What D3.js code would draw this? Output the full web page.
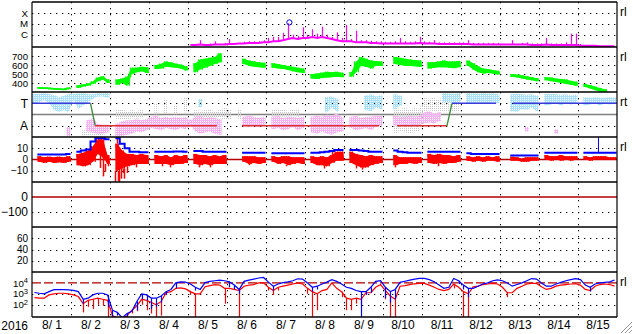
<!DOCTYPE html>
<html>
<head>
<meta charset="utf-8">
<script src="https://cdnjs.cloudflare.com/ajax/libs/d3/7.8.5/d3.min.js"></script>
<style>
  body { margin: 0; background: #fff; }
  text { font-family: "Liberation Sans", Arial, sans-serif; }
</style>
</head>
<body>
<div class="chart"></div>
<script>
// Space weather summary, 2016-08-01 .. 2016-08-16, 3-hour bins (8 per day)
var N = null;

// X-ray flux, log10 W/m2 (bin low / bin high)
var xrayLo = [
  N,N,N,N,N,N,N,N, N,N,N,N,N,N,N,N, N,N,N,N,N,N,N,N, N,N,N,N,N,N,N,N,
  -6.95,-6.95,-6.9,-6.95,-6.95,-6.9,-6.9,-6.9,
  -6.85,-6.85,-6.8,-6.8,-6.75,-6.75,-6.75,-6.7,
  -6.7,-6.6,-6.6,-6.5,-6.4,-6.3,-6.4,-6.3,
  -6.3,-6.2,-6.3,-6.2,-6.3,-6.4,-6.5,-6.6,
  -6.6,-6.6,-6.7,-6.7,-6.7,-6.75,-6.75,-6.8,
  -6.8,-6.8,-6.8,-6.8,-6.8,-6.8,-6.8,-6.75,
  -6.8,-6.8,-6.8,-6.85,-6.85,-6.85,-6.85,-6.85,
  -6.85,-6.85,-6.9,-6.9,-6.9,-6.9,-6.9,-6.9,
  -6.9,-6.9,-6.9,-6.9,-6.9,-6.9,-6.95,-6.95,
  -6.95,-6.9,-6.95,-6.95,-6.95,-6.95,-6.95,-6.95,
  -7.0,-7.0,-7.0,-7.0,-7.05,-7.05,-7.05,-7.05
];
var xrayHi = [
  N,N,N,N,N,N,N,N, N,N,N,N,N,N,N,N, N,N,N,N,N,N,N,N, N,N,N,N,N,N,N,N,
  -6.85,-6.85,-6.5,-6.85,-6.8,-6.6,-6.8,-6.75,
  -6.4,-6.75,-6.7,-6.65,-6.6,-6.6,-6.6,-6.5,
  -6.3,-6.2,-6.2,-5.82,-4.95,-6.0,-6.1,-5.32,
  -6.0,-5.5,-5.9,-5.27,-6.0,-6.2,-5.78,-6.3,
  -5.11,-6.4,-5.63,-6.5,-6.5,-6.55,-6.6,-6.6,
  -6.65,-6.65,-6.6,-6.3,-6.6,-6.65,-6.6,-6.2,
  -6.6,-6.65,-6.5,-6.7,-6.7,-6.7,-6.7,-6.7,
  -6.7,-6.5,-6.75,-6.75,-6.75,-6.75,-6.75,-6.75,
  -6.8,-6.8,-6.5,-6.8,-6.75,-6.7,-6.8,-6.8,
  -6.8,-6.3,-6.8,-6.8,-6.8,-6.7,-5.9,-5.9,
  -6.85,-6.9,-6.9,-6.9,-6.95,-6.95,-6.95,-6.95
];
var flareMark = { bin: 52.8, v: -4.87 };

// solar wind speed, km/s
var speedLo = [
  N,334,333,330,325,322,320,330,
  N,345,360,370,390,420,440,400,
  N,380,400,370,500,520,530,510,
  N,555,560,580,575,570,560,540,
  N,520,550,570,590,610,630,N,
  N,N,N,610,590,580,575,570,
  N,570,560,555,545,530,520,510,
  N,450,445,455,460,465,470,465,
  N,470,520,590,580,560,590,590,
  N,N,610,600,590,590,585,580,
  N,560,570,575,575,570,565,575,
  N,590,550,520,505,510,505,495,
  N,N,470,460,450,440,430,420,
  N,430,420,410,400,390,380,370,
  N,355,340,320,305,300,N,N
];
var speedHi = [
  N,355,352,350,345,342,340,350,
  N,375,385,395,420,460,475,440,
  N,440,450,470,570,570,580,575,
  N,600,615,640,630,615,605,585,
  N,620,660,670,680,690,730,N,
  N,N,N,670,650,640,630,625,
  N,620,610,600,590,580,570,560,
  N,500,505,515,525,520,525,515,
  N,520,640,690,670,650,645,640,
  N,N,690,680,670,660,655,650,
  N,630,630,640,650,640,640,645,
  N,650,620,585,560,555,545,535,
  N,N,500,495,485,475,465,455,
  N,465,460,450,445,440,425,415,
  N,390,375,360,345,330,N,N
];

// IMF direction scatter (+1 toward, -1 away)
var towardLo = [
  0.93,1.1,1.29,1.0,0.4,0.22,0.4,0.22,
  1.3,0.5,0.8,1.1,1.4,1.6,1.6,1.5,
  N,N,N,N,N,N,N,N, N,N,N,N,N,N,N,N,
  N,N,0.67,N,N,N,N,N, N,N,N,N,N,N,N,N, N,N,N,N,N,N,N,N,
  N,N,N,N,0.2,0.6,0.3,N,
  N,N,N,N,0.4,0.3,0.6,0.5,
  N,N,0.5,0.8,N,N,N,N,
  N,N,N,N,1.1,1.1,1.0,1.1,
  N,0.93,1.0,1.1,0.95,1.0,1.1,1.0,
  N,N,0.3,0.22,0.5,0.4,0.6,0.3,
  N,0.8,0.9,1.0,0.8,1.0,0.9,1.0,
  N,0.8,0.9,1.0,0.8,1.0,0.9,1.0
];
var towardHi = [
  1.82,1.82,1.9,1.82,1.73,1.55,1.64,1.82,
  1.8,1.9,1.9,1.8,1.8,1.9,1.9,1.9,
  N,N,N,N,N,N,N,N, N,N,N,N,N,N,N,N,
  N,N,1.38,N,N,N,N,N, N,N,N,N,N,N,N,N, N,N,N,N,N,N,N,N,
  N,N,N,N,1.55,1.6,1.4,N,
  N,N,N,N,1.7,1.8,1.6,1.7,
  N,N,1.8,1.7,N,N,N,N,
  N,N,N,N,1.9,1.9,1.85,1.9,
  N,1.9,1.9,1.85,1.9,1.85,1.9,1.8,
  N,N,1.8,1.82,1.8,1.75,1.8,1.7,
  N,1.8,1.82,1.8,1.75,1.8,1.7,1.75,
  N,1.55,1.5,1.55,1.5,1.5,1.55,1.5
];
var awayLo = [
  N,N,N,N,N,N,N,-1.9,
  N,N,N,-1.5,-1.6,-1.73,-1.7,-1.6,
  N,-1.9,-1.9,-1.8,-1.7,-1.5,-1.6,-1.4,
  -1.2,-1.3,-1.4,-1.2,-1.3,-1.4,-1.2,-1.3,
  -1.0,-1.5,-1.7,-1.6,-1.5,-1.7,-1.8,N,
  N,N,N,-1.0,-1.1,-1.0,-1.1,-0.9,
  N,-1.3,-1.2,-1.4,-1.3,-1.1,-1.4,-1.2,
  N,-1.6,-1.7,-1.5,-1.7,-1.8,-1.6,-1.5,
  N,-1.2,-1.4,-1.3,-1.2,-1.4,-1.1,-1.0,
  N,N,-1.0,-0.9,-1.0,-0.9,-1.0,-0.9,
  -0.8,-0.7,-0.8,-0.6,N,N,N,N,
  N,N,N,N,N,N,N,N,
  N,N,N,N,N,-1.5,N,N,
  N,N,N,-1.7,N,N,N,N,
  N,N,N,N,N,N,N,N
];
var awayHi = [
  N,N,N,N,N,N,N,-1.1,
  N,N,N,-0.5,-0.3,-0.84,-0.9,-0.9,
  N,-0.8,-0.6,-0.5,-0.5,-0.4,-0.5,-0.4,
  -0.2,-0.1,-0.3,-0.2,-0.3,-0.2,-0.3,-0.2,
  -0.5,-0.2,-0.1,-0.3,-0.2,-0.3,-0.4,N,
  N,N,N,-0.2,-0.1,-0.2,-0.3,-0.2,
  N,-0.2,-0.1,-0.3,-0.2,-0.2,-0.3,-0.2,
  N,-0.2,-0.1,-0.2,0.0,-0.1,0.1,-0.2,
  N,-0.2,-0.1,-0.3,-0.2,-0.2,-0.1,-0.1,
  N,N,-0.1,-0.2,-0.2,-0.1,-0.2,-0.1,
  0.2,0.3,0.1,0.2,N,N,N,N,
  N,N,N,N,N,N,N,N,
  N,N,N,N,N,-1.1,N,N,
  N,N,N,-1.3,N,N,N,N,
  N,N,N,N,N,N,N,N
];
var weakLo = [
  N,N,N,N,N,N,N,N,
  N,N,-2,-2,-2,-2,-2,N,
  N,-0.5,-0.4,-0.5,-0.3,-0.4,-0.3,N,
  N,0,N,0.1,N,0,N,0.2,
  N,-0.3,-0.3,-0.2,-0.3,-0.2,-0.3,-0.5,
  -0.4,N,-0.5,N,N,N,N,N,
  N,-0.2,-0.1,-0.2,-0.2,-0.1,-0.2,N,
  N,N,N,N,N,N,N,N,
  N,N,N,N,N,N,N,N,
  N,N,-1.7,-1.5,-1.6,-1.7,-1.5,-1.6,
  0.3,0.4,0.3,0.3,0.2,0.2,0.2,0.2,
  N,1.0,N,1.0,N,1.1,N,1.0,
  N,N,N,N,N,N,N,N,
  N,1.0,N,1.1,N,1.0,N,N,
  N,N,N,N,N,N,N,N
];
var weakHi = [
  N,N,N,N,N,N,N,N,
  N,N,-1.4,-1.4,-1.5,-1.6,-1.5,N,
  N,0.4,0.5,0.3,0.4,0.3,0.5,N,
  N,1.0,N,1.3,N,0.8,N,1.5,
  N,0.4,0.3,0.4,0.4,0.3,0.4,0.6,
  0.5,N,0.5,N,N,N,N,N,
  N,0.5,0.4,0.5,0.3,0.5,0.4,N,
  N,N,N,N,N,N,N,N,
  N,N,N,N,N,N,N,N,
  N,N,0.6,0.5,0.6,0.4,0.6,0.5,
  1.5,1.4,1.5,1.3,1.8,1.8,1.8,1.8,
  N,1.8,N,1.8,N,1.8,N,1.7,
  N,N,N,N,N,N,N,N,
  N,1.8,N,1.8,N,1.7,N,N,
  N,N,N,N,N,N,N,N
];
// sector polarity, time in days from 8/1 00:00
var sectorT = [0, 1.5, 1.62, 4.74, N, 5.38, 8.9, N, 9.36, 10.64, 10.77, 11.9, N, 12.33, 15];
var sectorV = [1, 1, -1, -1, N, -1, -1, N, -1, -1, 1, 1, N, 1, 1];

// IMF Bt and Bz, nT
var bt = [
  N,4.5,4.5,4.5,4.5,4.5,4.5,5,
  N,7,8,9,16,19,19,18,
  N,19,14,10,7,7,6.5,6.5,
  N,7,7,7,7,7.2,7.2,7,
  N,7.5,7.5,7,7,7,7,7,
  N,N,N,6,6,6,6,6,
  N,5.5,5.5,5.5,5.5,5.5,5.5,5.5,
  N,6,6,6.5,7,7.5,8.5,8.5,
  N,8.5,8.5,8,7.5,7,7,7,
  N,N,8,7,6.5,6,6,6,
  N,7,7,7,7,7,7,7,
  N,5.5,5,5,5,5,5,5,
  N,N,3.5,3.5,3.5,3.5,3.5,3.5,
  N,6,6,6,6,6,6,6,
  N,6,6,6,6,6,6,6
];
var btSpikes = [{ bin: 116.2, v: 20 }];
var bzLo = [
  N,-2,-3,-2,-3,-2.5,-3,-2,
  N,-5,-6,-5,-2,5,2,-4,
  N,-10,-8,-6,-5,-4,-4,-4,
  N,-4,-4,-4,-5,-4,-4,-3,
  N,-4,-5,-4,-5,-4,-4,-4,
  N,N,N,-2,-4,-3,-4,-3,
  N,-2,-4,-3,-5,-4,-3,-4,
  N,-3,-5,-5,-6,-3,-1,-1,
  N,-3,-5,-7,-7,-5,-4,-3,
  N,N,-5,-4,-4,-3,-4,-3,
  N,-3,-4,-3,-4,-3,-3,-2,
  N,-1,-2,-1,-2,-1,-1,-2,
  N,N,-1,-1,-2,-2,-1,-1,
  N,0,-1,0,-1,0,-1,0,
  N,0,-1,0,0,0,0,0
];
var bzHi = [
  N,3,2,2.5,2,2.5,2,3,
  N,5,6,8,12,18,18,4,
  N,14,8,5,5,4,5,4,
  N,4,3,4,2,4,3,4,
  N,5,4,4,3,4,3,4,
  N,N,N,3,3,3,2,2,
  N,3,2,3,3,2,2,2,
  N,3,2,3,2,4,7,7,
  N,7,5,4,3,4,3,3,
  N,N,4,2,2,2,2,2,
  N,5,4,5,4,4,3,4,
  N,3,2,3,2,3,2,3,
  N,N,2.5,2,1,2,2,2,
  N,4,3,3,4,3,3,3,
  N,3,2,3,3,3,2,2
];
// short excursions of Bz beyond the bands: [bin, nT]
var bzSpikes = [
  [13.9, -7.5], [14.6, -15], [15.0, -10.8], [15.6, -6], [17.1, -20], [17.4, 19],
  [17.6, -19], [17.9, -20], [18.3, -17], [18.7, -12], [18.95, -17], [19.4, -12],
  [21.3, -7], [26.6, -6], [28.4, -7], [34.2, -7], [36.5, -7], [44.5, -5],
  [52.2, -6], [59.8, -8], [61.5, 8.5], [66.5, -8], [67.6, -9], [74.4, -7],
  [83.2, -6]
];

// electron flux, log10 (two channels)
var elecALo = [
  3.05,2.95,2.9,3.05,3.3,3.33,3.33,3.3,
  3.25,3.1,2.1,2.45,2.7,2.95,2.95,1.8,
  0.9,1.0,0.7,0.8,1.1,1.5,2.5,2.4,
  1.6,1.8,2.2,2.9,3.1,3.5,4.05,3.9,
  3.6,3.3,3.15,3.9,4.07,4.14,4.18,4.14,
  3.6,3.4,3.0,4.0,4.14,4.28,4.42,4.42,
  3.9,3.3,3.7,3.95,4.03,4.1,4.3,4.2,
  3.8,3.2,3.4,3.7,3.95,4.2,4.0,3.7,
  3.5,3.3,3.0,0.8,2.9,3.1,4.0,4.14,
  2.6,2.2,2.5,3.9,4.05,4.15,4.25,4.35,
  4.38,4.1,3.9,3.5,3.35,3.45,4.2,3.9,
  3.4,2.7,3.35,3.5,3.8,3.9,4.1,4.2,
  4.1,3.7,3.6,3.7,3.9,4.1,4.3,4.2,
  3.9,3.6,3.55,3.8,3.95,4.1,4.2,4.3,
  4.1,3.5,3.2,3.8,3.9,4.0,4.05,4.1
];
var elecAHi = [
  3.12,3.05,3.0,3.2,3.38,3.38,3.38,3.36,
  3.32,3.2,2.5,2.6,2.9,3.05,3.05,2.9,
  1.5,1.3,0.8,1.2,1.4,2.3,3.0,2.9,
  2.6,2.6,2.8,3.2,3.4,4.0,4.1,4.07,
  3.9,3.6,3.4,4.03,4.14,4.2,4.25,4.2,
  4.1,3.8,3.4,4.14,4.25,4.35,4.45,4.5,
  4.07,3.7,3.9,4.03,4.1,4.2,4.38,4.35,
  4.0,3.6,3.7,3.9,4.07,4.3,4.14,3.9,
  3.6,3.5,3.3,3.2,3.2,3.6,4.14,4.2,
  3.6,3.2,3.4,4.05,4.15,4.25,4.35,4.42,
  4.42,4.3,4.1,3.8,3.5,3.6,4.4,4.2,
  3.8,3.5,3.5,3.7,3.9,4.0,4.2,4.27,
  4.2,4.0,3.7,3.85,4.0,4.2,4.4,4.35,
  4.0,3.7,3.7,3.9,4.05,4.2,4.3,4.4,
  4.3,3.8,3.6,3.9,4.0,4.05,4.1,4.27
];
var elecBLo = [
  2.55,2.5,2.5,2.7,2.9,2.95,2.95,2.9,
  2.7,2.6,1.3,1.8,1.6,2.0,1.9,0.8,
  0.5,0.5,0.5,0.6,1.2,1.4,2.0,1.5,
  1.2,0.8,1.0,2.9,3.0,3.35,3.4,3.2,
  2.9,0.8,2.75,3.5,3.6,3.7,3.7,2.1,
  3.2,3.3,0.8,3.6,3.7,3.8,3.85,3.9,
  3.3,2.9,3.3,3.6,3.7,3.8,3.85,3.8,
  3.0,0.9,1.5,3.0,3.3,3.8,3.3,2.7,
  1.5,1.5,2.1,2.0,2.9,3.0,3.5,3.7,
  2.5,0.8,0.8,3.5,3.65,3.75,3.85,3.9,
  3.85,3.7,3.5,3.3,3.2,3.3,3.5,3.4,
  0.8,0.8,3.5,3.6,3.75,3.85,3.9,3.8,
  3.4,2.7,2.9,3.3,3.6,3.8,3.9,3.85,
  3.5,3.2,3.3,3.6,3.7,3.8,3.85,3.9,
  3.6,3.2,3.05,3.5,3.75,3.85,3.8,3.6
];
var elecBHi = [
  2.65,2.6,2.6,2.9,3.0,3.05,3.05,3.0,
  2.9,2.75,2.1,2.4,2.5,2.6,2.5,2.4,
  1.0,0.8,0.7,1.0,1.5,1.9,2.5,2.4,
  2.2,2.0,2.3,3.1,3.2,3.5,3.55,3.45,
  3.2,3.0,3.0,3.65,3.75,3.85,3.8,3.5,
  3.5,3.4,3.3,3.7,3.8,3.85,4.0,4.0,
  3.6,3.3,3.6,3.7,3.8,3.9,4.0,3.9,
  3.5,3.2,3.0,3.3,3.4,4.0,3.5,3.2,
  2.6,2.5,2.6,2.5,3.1,3.1,3.6,3.85,
  3.3,2.8,2.5,3.7,3.75,3.85,3.92,3.96,
  3.95,3.8,3.6,3.4,3.3,3.4,3.9,3.6,
  3.2,3.0,3.65,3.7,3.85,3.9,3.96,3.9,
  3.6,3.1,3.1,3.5,3.7,3.9,3.96,3.95,
  3.65,3.4,3.5,3.7,3.8,3.85,3.9,3.92,
  3.8,3.4,3.3,3.7,3.85,3.9,3.85,3.7
];

// tick labels
var xrayTicks = [-4, -5, -6], xrayNames = ["X", "M", "C"];
var speedTicks = [700, 600, 500, 400];
var sectorTicks = [1, -1], sectorNames = ["T", "A"];
var bTicks = [10, 0, -10];
var dstTicks = [0, -100];
var kpTicks = [60, 40, 20];
var elecTicks = [4, 3, 2];
var sideNotes = [["rl", 0], ["rl", 1], ["rt", 2], ["rl", 3], ["rl", 6]];

// layout
var svgWidth = 633;
var svgHeight = 334;
var left = 32, right = 617, top0 = 2, panelH = 45;

var svg = d3.select(".chart")
  .append("svg")
  .attr("width", svgWidth)
  .attr("height", svgHeight);

var t0 = Date.UTC(2016, 7, 1);
var x = d3.scaleUtc()
  .domain([new Date(t0), new Date(Date.UTC(2016, 7, 16))])
  .range([left, right]);
function binX(b) { return x(new Date(t0 + b * 3 * 3600 * 1000)); }
function dayX(d) { return x(new Date(t0 + d * 86400000)); }

function panelTop(k) { return top0 + k * panelH; }
function yScale(k, domain) {
  return d3.scaleLinear().domain(domain).range([panelTop(k) + panelH, panelTop(k)]);
}
var yX = yScale(0, [-7.125, -3]);
var yV = yScale(1, [300, 800]);
var yS = yScale(2, [-2, 2]);
var yB = yScale(3, [-20, 20]);
var yD = yScale(4, [-200, 100]);
var yK = yScale(5, [0, 80]);
var yE = yScale(6, [0.875, 5]);

// clip paths, one per panel, and dot patterns for the scatter panel
var defs = svg.append("defs");
d3.range(7).forEach(function(k) {
  defs.append("clipPath").attr("id", "clip" + k)
    .append("rect")
    .attr("x", left).attr("y", panelTop(k))
    .attr("width", right - left).attr("height", panelH);
});
function dotPattern(id, color, cells) {
  var p = defs.append("pattern")
    .attr("id", id)
    .attr("width", 2).attr("height", 2)
    .attr("patternUnits", "userSpaceOnUse");
  cells.forEach(function(c) {
    p.append("rect").attr("x", c[0]).attr("y", c[1]).attr("width", 1).attr("height", 1).attr("fill", color);
  });
}
dotPattern("dotT", "#a8e0fa", [[0, 0], [1, 1], [1, 0]]);
dotPattern("dotA", "#f4b0f0", [[0, 0], [1, 1], [1, 0]]);
dotPattern("dotW", "#c4c4c4", [[0, 0]]);

// dotted grid
var grid = svg.append("g")
  .attr("stroke", "#000")
  .attr("stroke-width", 1)
  .attr("stroke-dasharray", "1.3,4.7");

d3.utcDay.range(new Date(t0 + 86400000), new Date(Date.UTC(2016, 7, 16))).forEach(function(d) {
  grid.append("line")
    .attr("x1", Math.round(x(d)) + 0.5).attr("x2", Math.round(x(d)) + 0.5)
    .attr("y1", top0).attr("y2", top0 + 7 * panelH);
});

function hgrid(scale, values) {
  values.forEach(function(v) {
    var yy = Math.round(scale(v)) + 0.5;
    grid.append("line")
      .attr("x1", left).attr("x2", right)
      .attr("y1", yy).attr("y2", yy);
  });
}
hgrid(yX, xrayTicks);
hgrid(yV, speedTicks);
hgrid(yS, sectorTicks);
hgrid(yB, [10, -10]);
hgrid(yD, [-100]);
hgrid(yK, kpTicks);
hgrid(yE, [3, 2]);

// reference lines
svg.append("line")
  .attr("x1", left).attr("x2", right)
  .attr("y1", yS(0)).attr("y2", yS(0))
  .attr("stroke", "#808080").attr("stroke-width", 1.5);
[[yB, 0], [yD, 0]].forEach(function(r) {
  svg.append("line")
    .attr("x1", left).attr("x2", right)
    .attr("y1", r[0](r[1])).attr("y2", r[0](r[1]))
    .attr("stroke", "#b00000").attr("stroke-width", 1.3);
});
svg.append("line")
  .attr("x1", left).attr("x2", right)
  .attr("y1", yE(4)).attr("y2", yE(4))
  .attr("stroke", "#b00000").attr("stroke-width", 1.3)
  .attr("stroke-dasharray", "9,3");

// band between bin low and bin high; lone bins get a little width
function bandPoints(lo, hi) {
  var pts = [];
  lo.forEach(function(v, i) {
    if (v === null) { pts.push(null); return; }
    if (i === 0 || lo[i - 1] === null) pts.push({ b: i + 0.1, lo: v, hi: hi[i] });
    pts.push({ b: i + 0.5, lo: v, hi: hi[i] });
    if (i === lo.length - 1 || lo[i + 1] === null) pts.push({ b: i + 0.9, lo: v, hi: hi[i] });
  });
  return pts;
}
function drawBand(k, scale, lo, hi, fill, stroke) {
  var area = d3.area()
    .defined(function(d) { return d !== null; })
    .x(function(d) { return binX(d.b); })
    .y0(function(d) { return scale(d.lo); })
    .y1(function(d) { return scale(d.hi); });
  return svg.append("path")
    .datum(bandPoints(lo, hi))
    .attr("clip-path", "url(#clip" + k + ")")
    .attr("fill", fill)
    .attr("stroke", stroke || "none")
    .attr("stroke-width", 1)
    .attr("d", area);
}

// zig-zag outline through low/high of each bin, for a ragged edge
function drawZig(k, scale, lo, hi, color) {
  var pts = [];
  lo.forEach(function(v, i) {
    if (v === null) { pts.push(null); return; }
    pts.push({ b: i + 0.2, v: hi[i] }, { b: i + 0.45, v: v }, { b: i + 0.7, v: hi[i] }, { b: i + 0.95, v: v });
  });
  var line = d3.line()
    .defined(function(d) { return d !== null; })
    .x(function(d) { return binX(d.b); })
    .y(function(d) { return scale(d.v); });
  svg.append("path")
    .datum(pts)
    .attr("clip-path", "url(#clip" + k + ")")
    .attr("fill", "none")
    .attr("stroke", color)
    .attr("stroke-width", 1)
    .attr("d", line);
}

// line through one value per bin, with needles where the bin reaches far off
function drawNeedleLine(k, scale, base, far, color, width, minGap) {
  var line = d3.line()
    .defined(function(d) { return d !== null; })
    .x(function(d) { return binX(d.b); })
    .y(function(d) { return scale(d.v); });
  var pts = base.map(function(v, i) { return v === null ? null : { b: i + 0.5, v: v }; });
  var g = svg.append("g").attr("clip-path", "url(#clip" + k + ")");
  g.append("path")
    .datum(pts)
    .attr("fill", "none")
    .attr("stroke", color)
    .attr("stroke-width", width)
    .attr("d", line);
  base.forEach(function(v, i) {
    if (v === null || Math.abs(far[i] - v) < minGap) return;
    var xx = Math.round(binX(i + 0.5)) + 0.5;
    g.append("line")
      .attr("x1", xx).attr("x2", xx)
      .attr("y1", scale(v)).attr("y2", scale(far[i]))
      .attr("stroke", color).attr("stroke-width", 1.2);
  });
}

// panel 1: x-ray
drawNeedleLine(0, yX, xrayLo, xrayHi, "#ff00ff", 2, 0.12);
svg.append("circle")
  .attr("cx", binX(flareMark.bin))
  .attr("cy", yX(flareMark.v))
  .attr("r", 2.6)
  .attr("fill", "none")
  .attr("stroke", "#0000ff")
  .attr("stroke-width", 1);

// panel 2: speed
drawBand(1, yV, speedLo, speedHi, "#00ff00");
drawZig(1, yV, speedLo, speedHi, "#00ff00");

// panel 3: IMF direction
drawBand(2, yS, weakLo, weakHi, "url(#dotW)");
drawBand(2, yS, towardLo, towardHi, "url(#dotT)");
drawBand(2, yS, awayLo, awayHi, "url(#dotA)");

var sector = svg.append("g").attr("clip-path", "url(#clip2)");
sectorT.forEach(function(t, i) {
  if (i === 0 || t === null || sectorT[i - 1] === null) return;
  var a = sectorV[i - 1], b = sectorV[i];
  var color = (a > 0 && b > 0) ? "#3c3cdc" : (a < 0 && b < 0) ? "#dc3232" : "#3c8c3c";
  sector.append("line")
    .attr("x1", dayX(sectorT[i - 1])).attr("x2", dayX(t))
    .attr("y1", yS(a)).attr("y2", yS(b))
    .attr("stroke", color).attr("stroke-width", 1.3);
});

// panel 4: Bt / Bz
drawBand(3, yB, bzLo, bzHi, "#ff0000");
drawZig(3, yB, bzLo, bzHi, "#ff0000");
var spikes = svg.append("g").attr("clip-path", "url(#clip3)");
bzSpikes.forEach(function(s) {
  var i = Math.floor(s[0]);
  var from = s[1] < 0 ? bzLo[i] : bzHi[i];
  spikes.append("line")
    .attr("x1", Math.round(binX(s[0])) + 0.5).attr("x2", Math.round(binX(s[0])) + 0.5)
    .attr("y1", yB(from)).attr("y2", yB(s[1]))
    .attr("stroke", "#ff0000").attr("stroke-width", 1.5);
});
var btLine = d3.line()
  .defined(function(d) { return d !== null; })
  .curve(d3.curveStep)
  .x(function(d) { return binX(d.b); })
  .y(function(d) { return yB(d.v); });
svg.append("path")
  .datum(bandPoints(bt, bt).map(function(d) { return d === null ? null : { b: d.b, v: d.lo }; }))
  .attr("clip-path", "url(#clip3)")
  .attr("fill", "none")
  .attr("stroke", "#0000ff")
  .attr("stroke-width", 2)
  .attr("d", btLine);
btSpikes.forEach(function(s) {
  svg.append("line")
    .attr("x1", binX(s.bin)).attr("x2", binX(s.bin))
    .attr("y1", yB(bt[Math.floor(s.bin)])).attr("y2", yB(s.v))
    .attr("clip-path", "url(#clip3)")
    .attr("stroke", "#0000ff").attr("stroke-width", 1);
});

// panel 7: electrons
drawNeedleLine(6, yE, elecBHi, elecBLo, "#ff0000", 1.2, 0.3);
drawNeedleLine(6, yE, elecAHi, elecALo, "#0000ff", 1.2, 0.3);

// frame
var frame = svg.append("g").attr("stroke", "#000");
d3.range(8).forEach(function(k) {
  frame.append("line")
    .attr("x1", left).attr("x2", right)
    .attr("y1", panelTop(k)).attr("y2", panelTop(k))
    .attr("stroke-width", 1.5);
});
[left, right].forEach(function(xx) {
  frame.append("line")
    .attr("x1", xx).attr("x2", xx)
    .attr("y1", top0).attr("y2", top0 + 7 * panelH)
    .attr("stroke-width", 1.2);
});

// left labels via axes
function leftAxis(scale, values, fmt, size) {
  var g = svg.append("g")
    .attr("transform", "translate(" + left + ",0)")
    .call(d3.axisLeft(scale).tickValues(values).tickSize(0).tickPadding(4).tickFormat(fmt));
  g.select(".domain").remove();
  g.selectAll("text")
    .attr("font-size", size || 12)
    .attr("font-family", "Liberation Sans, Arial, sans-serif")
    .attr("fill", "#000");
  return g;
}
leftAxis(yX, xrayTicks, function(d, i) { return xrayNames[i]; }, 9.7);
leftAxis(yV, speedTicks, d3.format("d"), 9.6);
leftAxis(yS, sectorTicks, function(d, i) { return sectorNames[i]; });
leftAxis(yB, bTicks, d3.format("d"), 10);
leftAxis(yD, dstTicks, d3.format("d"));
leftAxis(yK, kpTicks, d3.format("d"), 10);
var eAxis = leftAxis(yE, elecTicks, function() { return ""; }, 9.7);
eAxis.selectAll("text").each(function(d) {
  var t = d3.select(this);
  t.append("tspan").text("10");
  t.append("tspan").attr("dy", "-0.45em").attr("font-size", 7.5).text(d);
});

// bottom axis: day labels at noon
var days = d3.utcDay.range(new Date(t0), new Date(Date.UTC(2016, 7, 16)));
var fmt = d3.utcFormat("%-m/%e");
svg.append("g")
  .attr("transform", "translate(0," + (top0 + 7 * panelH) + ")")
  .call(d3.axisBottom(x)
    .tickValues(days.map(function(d) { return d3.utcHour.offset(d, 12); }))
    .tickSize(0).tickPadding(3)
    .tickFormat(fmt))
  .call(function(g) {
    g.select(".domain").remove();
    g.selectAll("text")
      .attr("font-size", 12)
      .attr("font-family", "Liberation Sans, Arial, sans-serif")
      .attr("fill", "#000")
      .style("white-space", "pre")
      .attr("xml:space", "preserve");
  });

svg.append("text")
  .attr("x", 28).attr("y", 330)
  .attr("text-anchor", "end")
  .attr("font-size", 12)
  .text("2016");

// right side notes
sideNotes.forEach(function(n) {
  svg.append("text")
    .attr("x", 620).attr("y", panelTop(n[1]) + 14)
    .attr("font-size", 12)
    .text(n[0]);
});

// resize grip
[4, 8, 12].forEach(function(o) {
  svg.append("line")
    .attr("x1", svgWidth - o).attr("y1", svgHeight - 1)
    .attr("x2", svgWidth - 1).attr("y2", svgHeight - o)
    .attr("stroke", "#999").attr("stroke-width", 1);
});
</script>
</body>
</html>
